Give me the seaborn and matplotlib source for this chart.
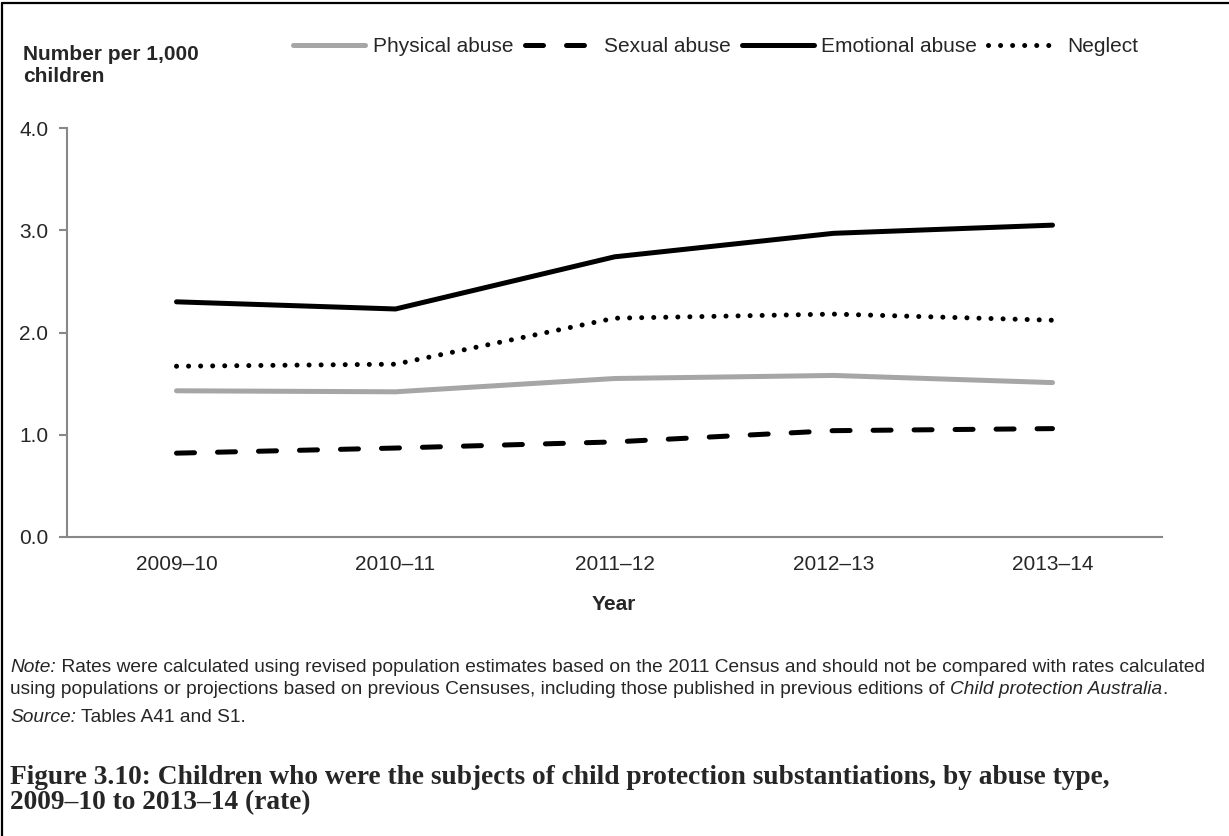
import pandas as pd
import matplotlib.pyplot as plt
import seaborn as sns
from matplotlib.lines import Line2D
from matplotlib.ticker import FormatStrFormatter, FixedLocator

# dados
years = ['2009–10', '2010–11', '2011–12', '2012–13', '2013–14']
physical = [1.43, 1.42, 1.55, 1.58, 1.51]
sexual = [0.82, 0.87, 0.93, 1.04, 1.06]
emotional = [2.30, 2.23, 2.74, 2.97, 3.05]
neglect = [1.67, 1.69, 2.14, 2.18, 2.12]
abuse_types = ['Physical abuse', 'Sexual abuse', 'Emotional abuse', 'Neglect']

df = pd.DataFrame({
    'year': years * 4,
    'type': [t for t in abuse_types for _ in years],
    'rate': physical + sexual + emotional + neglect,
})

sns.set_style('white')
plt.rcParams['font.family'] = ['Liberation Sans', 'DejaVu Sans']

W, H = 1229, 836
cores = {'Physical abuse': '#a6a6a6', 'Sexual abuse': 'black',
         'Emotional abuse': 'black', 'Neglect': 'black'}
tracos = {'Physical abuse': '', 'Sexual abuse': (3.6, 4.6),
          'Emotional abuse': '', 'Neglect': (0.01, 2.4)}

fig = plt.figure(figsize=(W / 100, H / 100), dpi=100)
ax = fig.add_axes([67 / W, 1 - 537 / H, (1162 - 67) / W, (537 - 128) / H])
sns.lineplot(data=df, x='year', y='rate', hue='type', style='type',
             palette=cores, dashes=tracos, linewidth=3.6, ax=ax, sort=False)
for ln in ax.get_lines():
    ln.set_dash_capstyle('round')
    ln.set_solid_capstyle('round')

ax.set_xlim(-0.5, 4.5)
ax.set_ylim(0, 4)
ax.set_yticks([0, 1, 2, 3, 4])
ax.yaxis.set_major_formatter(FormatStrFormatter('%.1f'))
ax.xaxis.set_minor_locator(FixedLocator([-0.5, 0.5, 1.5, 2.5, 3.5, 4.5]))
ax.tick_params(axis='x', which='major', length=0, labelsize=15, pad=13)
ax.tick_params(axis='x', which='minor', length=5.5, color='#888888', width=1.5, direction='out')
ax.tick_params(axis='y', length=5.5, color='#888888', width=1.5, direction='out', labelsize=15, pad=8)
ax.tick_params(bottom=True, left=True)
for s in ['top', 'right']:
    ax.spines[s].set_visible(False)
for s in ['left', 'bottom']:
    ax.spines[s].set_color('#888888')
    ax.spines[s].set_linewidth(1.5)
ax.set_xlabel('')
ax.set_ylabel('')
fig.text(614 / W, 1 - 604 / H, 'Year', fontsize=15, fontweight='bold', ha='center', va='center')

handles, labels = ax.get_legend_handles_labels()
leg = ax.legend(handles, labels, loc='center', bbox_to_anchor=(716 / W, 1 - 47 / H),
                bbox_transform=fig.transFigure, ncol=4, frameon=False, fontsize=15,
                handlelength=3.45, handletextpad=0.35, columnspacing=0.55,
                borderpad=0, borderaxespad=0)
for h in leg.get_lines():
    h.set_dash_capstyle('round')
    h.set_solid_capstyle('round')

fig.text(23 / W, 1 - 65 / H, 'Number per 1,000\nchildren', fontsize=15,
         fontweight='bold', va='center', ha='left', linespacing=1.2)


# texto em pedacos (italico + normal) na mesma linha
def texto_seq(x, y, partes, size):
    r = fig.canvas.get_renderer()
    xp = x
    for txt, estilo in partes:
        t = fig.text(xp / W, 1 - y / H, txt, fontsize=size, style=estilo,
                     va='center', ha='left')
        bb = t.get_window_extent(renderer=r)
        xp = xp + bb.width


nota = 13.8
texto_seq(10, 667, [('Note:', 'italic'),
                    (' Rates were calculated using revised population estimates based on the 2011 Census and should not be compared with rates calculated', 'normal')], nota)
texto_seq(10, 690, [('using populations or projections based on previous Censuses, including those published in previous editions of ', 'normal'),
                    ('Child protection Australia', 'italic'), ('.', 'normal')], nota)
texto_seq(10, 718, [('Source:', 'italic'), (' Tables A41 and S1.', 'normal')], nota)

legenda_fig = ['Figure 3.10: Children who were the subjects of child protection substantiations, by abuse type,',
               '2009–10 to 2013–14 (rate)']
for i, linha in enumerate(legenda_fig):
    fig.text(10 / W, 1 - (777 + 26 * i) / H, linha, fontsize=19.7, fontweight='bold',
             family='Liberation Serif', va='center', ha='left')

# moldura
fig.add_artist(Line2D([2 / W, 2 / W], [0, 1 - 3 / H], transform=fig.transFigure, color='black', lw=1.6))
fig.add_artist(Line2D([2 / W, 1], [1 - 3 / H, 1 - 3 / H], transform=fig.transFigure, color='black', lw=1.6))

fig.savefig('out.png', dpi=100)
